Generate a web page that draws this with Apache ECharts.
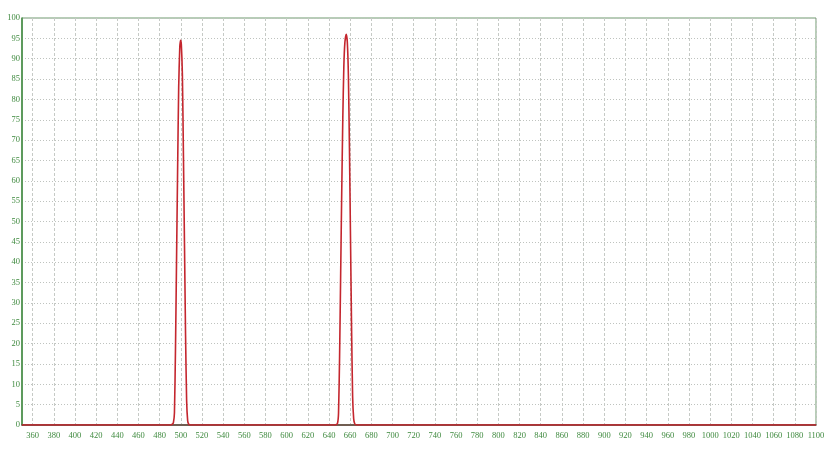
<!DOCTYPE html>
<html>
<head>
<meta charset="utf-8">
<script src="https://cdn.jsdelivr.net/npm/echarts@6/dist/echarts.min.js"></script>
<style>
html,body{margin:0;padding:0;background:#fff;}
#c{width:837px;height:452px;}
</style>
</head>
<body>
<div id="c"></div>
<script>
const wavelength = [350, 490, 492, 493, 494, 495, 496, 497, 498, 499, 499.8, 500.5, 501.5, 502.5, 503.5, 504.5, 505.5, 506.5, 507.5, 509,
  646, 648, 649, 650, 651, 652, 653, 654, 655, 656.3, 657.3, 658.3, 659.3, 660.3, 661.3, 662.3, 663.3, 664.3, 666, 1100];
const transmittance = [0, 0, 0.2, 0.6, 3, 19, 41, 63, 83, 92.5, 94.5, 93.5, 86, 66, 44, 22, 6, 1, 0.2, 0,
  0, 0.4, 3, 17, 37, 57, 75, 88, 94, 96, 94, 86, 68, 46, 24, 7, 1.5, 0.3, 0, 0];
const xTickLabels = [360, 380, 400, 420, 440, 460, 480, 500, 520, 540, 560, 580, 600, 620, 640, 660, 680, 700,
  720, 740, 760, 780, 800, 820, 840, 860, 880, 900, 920, 940, 960, 980, 1000, 1020, 1040, 1060, 1080, 1100];
const yTickLabels = [0, 5, 10, 15, 20, 25, 30, 35, 40, 45, 50, 55, 60, 65, 70, 75, 80, 85, 90, 95, 100];

const points = wavelength.map((w, i) => [w, transmittance[i]]);
const labelColor = '#3f8a3f';
const chart = echarts.init(document.getElementById('c'), null, {renderer: 'canvas'});
chart.setOption({
  animation: false,
  backgroundColor: '#ffffff',
  grid: {left: 22, right: 21, top: 18, bottom: 27, show: true, borderColor: '#6f9a6f', borderWidth: 1, containLabel: false},
  xAxis: {
    type: 'value', min: 350, max: 1100,
    axisLine: {show: true, lineStyle: {color: '#5a3a30', width: 1.5}},
    axisTick: {show: false, customValues: xTickLabels},
    axisLabel: {customValues: xTickLabels, formatter: v => String(v), color: labelColor, fontSize: 8.5, fontFamily: 'Liberation Serif', margin: 6, showMinLabel: true, showMaxLabel: true},
    splitLine: {show: true, lineStyle: {color: '#c6cac6', type: [3, 2], width: 1}}
  },
  yAxis: {
    type: 'value', min: 0, max: 100, interval: 5,
    axisLine: {show: true, lineStyle: {color: '#3f8a3f', width: 1.5}},
    axisTick: {show: false},
    axisLabel: {customValues: yTickLabels, formatter: v => String(v), color: labelColor, fontSize: 8.5, fontFamily: 'Liberation Serif', margin: 2},
    splitLine: {show: true, lineStyle: {color: '#bfc3bf', type: [1, 2], width: 1}}
  },
  series: [{
    type: 'line', data: points, showSymbol: false, symbol: 'none', smooth: 0.2,
    lineStyle: {color: '#c4262e', width: 1.6}
  }]
});
</script>
</body>
</html>
